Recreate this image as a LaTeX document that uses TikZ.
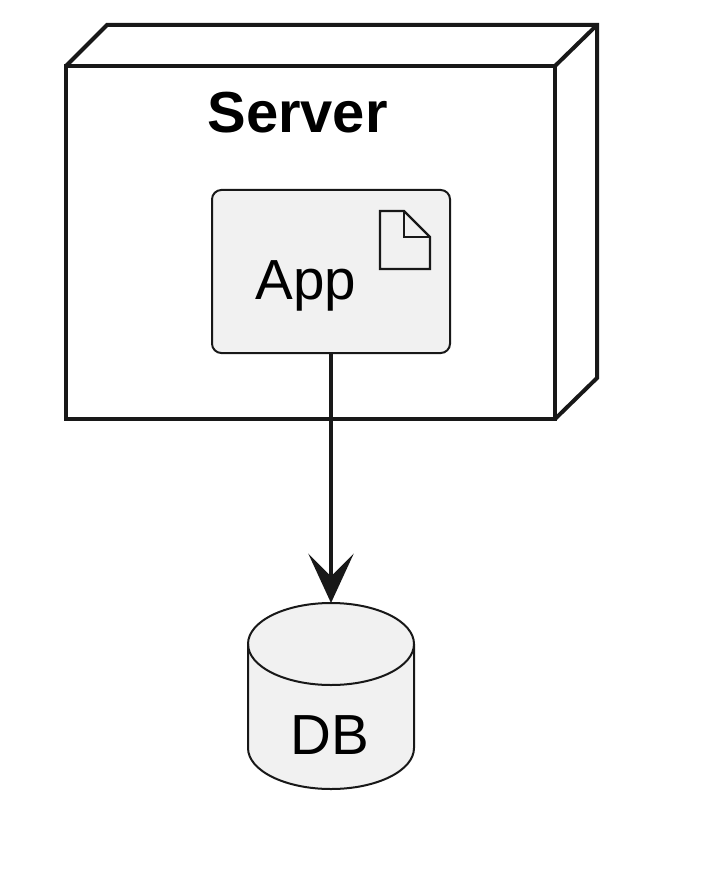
\documentclass[tikz,border=0pt]{standalone}
\usepackage{fontspec}
\setmainfont{Liberation Sans}
\usetikzlibrary{arrows.meta}
\definecolor{mydark}{RGB}{24,24,24}
\definecolor{mygray}{RGB}{241,241,241}
\tikzset{
  boxnode/.style={rectangle, draw=mydark, line width=3pt, minimum width=366.75pt, minimum height=264.75pt, inner sep=0pt, outer sep=0pt},
  artifact/.style={rectangle, draw=mydark, fill=mygray, line width=1.5pt, rounded corners=7pt, minimum width=178.5pt, minimum height=122.25pt, inner sep=0pt, outer sep=0pt},
  icon/.style={draw=mydark, line width=1.75pt, line join=miter},
  store/.style={draw=mydark, fill=mygray, line width=1.5pt},
  txt/.style={font=\fontsize{42.4}{42.4}\selectfont, anchor=base, inner sep=0pt, text=black},
  arrow/.style={-{Stealth[length=37pt, width=34pt, inset=17pt]}, line width=3pt, color=mydark}
}
\begin{document}
\begin{tikzpicture}[x=0.75pt, y=-0.75pt]
  \useasboundingbox (0,0) rectangle (700,891);

  % Server box
  \node[boxnode] (server) at (310.5, 242.5) {};
  \draw[draw=mydark, line width=3pt, line join=miter] (server.north west) -- (107, 25) -- (597, 25) -- (597, 378) -- (server.south east);
  \draw[draw=mydark, line width=3pt] (server.north east) -- (597, 25);
  \node[txt, font=\fontsize{43.4}{43.4}\selectfont\bfseries] (serverlabel) at (297.5, 133) {Server};

  % App
  \node[artifact] (app) at (331, 271.5) {};
  \node[txt] (applabel) at (306, 299) {App};
  \draw[icon] (380, 211) -- (404, 211) -- (430, 237) -- (430, 269) -- (380, 269) -- cycle;
  \draw[icon] (404, 211) -- (404, 237) -- (430, 237);

  % DB cylinder
  \node[minimum width=125pt, minimum height=139.5pt, inner sep=0pt, outer sep=0pt] (db) at (331, 696) {};
  \draw[store] (248, 644) arc[start angle=180, end angle=0, x radius=83, y radius=-41] -- (414, 748) arc[start angle=0, end angle=-180, x radius=83, y radius=-41] -- cycle;
  \draw[store, fill=none] (248, 644) arc[start angle=180, end angle=360, x radius=83, y radius=-41];
  \node[txt] (dblabel) at (330, 754) {DB};

  % Connector
  \draw[arrow] (app) -- (db.north);
\end{tikzpicture}
\end{document}
